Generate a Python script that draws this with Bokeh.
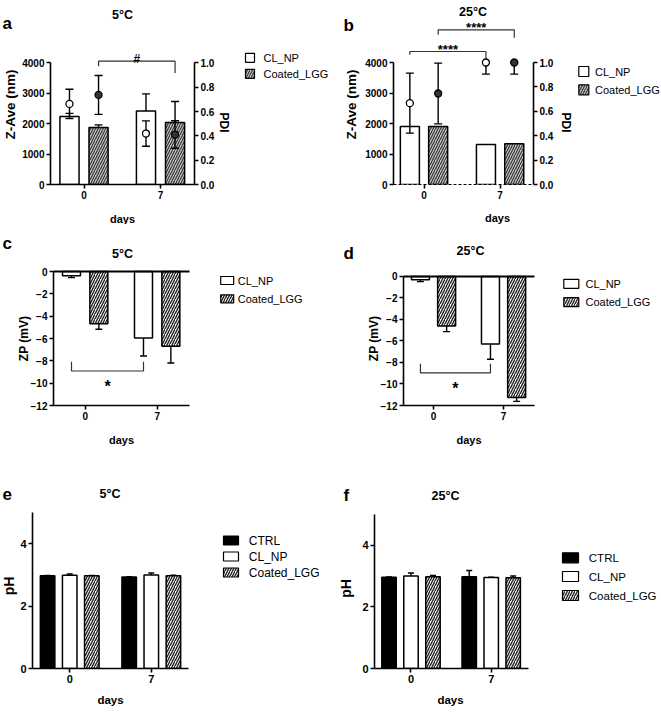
import numpy as np
from bokeh.plotting import figure
from bokeh.models import (Range1d, LinearAxis, FixedTicker, Label, Whisker, TeeHead,
                          ColumnDataSource, PrintfTickFormatter, CustomJSTickFormatter)
from bokeh.layouts import column, row
from bokeh.embed import file_html
from bokeh.resources import INLINE
from bokeh.core.properties import value

FONT = "Liberation Sans"

# ---------------- data ----------------
days = ["0", "7"]
series2 = ["CL_NP", "Coated_LGG"]
series3 = ["CTRL", "CL_NP", "Coated_LGG"]
zave_ticks = [0, 1000, 2000, 3000, 4000]
pdi_ticks = [0.0, 0.2, 0.4, 0.6, 0.8, 1.0]
zp_ticks = [0, -2, -4, -6, -8, -10, -12]
ph_ticks = [0, 2, 4]

# (a) 5 °C : Z-Ave (bars) and PDI (points)
a_zave_cl = [2240, 2420]
a_zave_cl_sd = [100, 560]
a_zave_lgg = [1875, 2040]
a_zave_lgg_sd = [85, 690]
a_pdi_cl = [0.663, 0.419]
a_pdi_cl_sd = [0.12, 0.104]
a_pdi_lgg = [0.737, 0.411]
a_pdi_lgg_sd = [0.16, 0.113]

# (b) 25 °C
b_zave_cl = [1900, 1310]
b_zave_lgg = [1900, 1340]
b_pdi_cl = [0.667, 1.0]
b_pdi_cl_sd = [0.246, 0.095]
b_pdi_lgg = [0.746, 1.0]
b_pdi_lgg_sd = [0.249, 0.095]

# (c) 5 °C zeta potential
c_zp_cl = [-0.38, -5.95]
c_zp_cl_sd = [0.17, 1.62]
c_zp_lgg = [-4.67, -6.70]
c_zp_lgg_sd = [0.5, 1.5]

# (d) 25 °C zeta potential
d_zp_cl = [-0.3, -6.27]
d_zp_cl_sd = [0.18, 1.43]
d_zp_lgg = [-4.6, -11.25]
d_zp_lgg_sd = [0.53, 0.37]

# (e) 5 °C pH
e_ph_ctrl = [2.97, 2.93]
e_ph_ctrl_sd = [0.01, 0.01]
e_ph_cl = [2.99, 3.0]
e_ph_cl_sd = [0.04, 0.06]
e_ph_lgg = [2.97, 2.97]
e_ph_lgg_sd = [0.01, 0.02]

# (f) 25 °C pH
f_ph_ctrl = [2.96, 2.98]
f_ph_ctrl_sd = [0.01, 0.2]
f_ph_cl = [3.0, 2.95]
f_ph_cl_sd = [0.1, 0.01]
f_ph_lgg = [2.98, 2.94]
f_ph_lgg_sd = [0.04, 0.06]

# ---------------- layout geometry (pixels) ----------------
GEO = {
    "a": dict(ox=0, oy=0, w=335, h=224, bl=50, br=141, bt=18, bb=40),
    "b": dict(ox=335, oy=0, w=325, h=224, bl=58, br=127, bt=18, bb=40),
    "c": dict(ox=0, oy=224, w=335, h=222, bl=53, br=146, bt=44, bb=41),
    "d": dict(ox=335, oy=224, w=325, h=222, bl=68, br=126, bt=44, bb=41),
    "e": dict(ox=0, oy=446, w=335, h=268, bl=32, br=147, bt=66, bb=46),
    "f": dict(ox=335, oy=446, w=325, h=268, bl=39, br=132, bt=66, bb=46),
}

HATCH_AB = dict(fill_color="#c8c8c8", hatch_pattern="right_diagonal_line", hatch_color="#333333",
                hatch_scale=5, hatch_weight=1.2)
HATCH_CF = dict(fill_color="white", hatch_pattern="right_diagonal_line", hatch_color="#222222",
                hatch_scale=5, hatch_weight=1.4)
BAR_LINE = dict(line_color="black", line_width=1.5)


def make_fig(g, xr, yr):
    p = figure(width=g["w"], height=g["h"], x_range=Range1d(*xr), y_range=Range1d(*yr),
               min_border_left=g["bl"], min_border_right=g["br"],
               min_border_top=g["bt"], min_border_bottom=g["bb"],
               output_backend="svg", toolbar_location=None,
               x_axis_location=None, y_axis_location=None)
    p.outline_line_color = None
    p.grid.visible = False
    p.background_fill_color = "white"
    p.border_fill_color = "white"
    p._geo = g
    return p


def style_axis(ax, size):
    ax.axis_line_width = 1.6
    ax.axis_line_color = "black"
    ax.major_tick_line_width = 1.6
    ax.major_tick_line_color = "black"
    ax.major_tick_in = 0
    ax.major_tick_out = 4
    ax.minor_tick_line_color = None
    ax.major_label_text_font = FONT
    ax.major_label_text_font_style = "bold"
    ax.major_label_text_font_size = size
    ax.major_label_text_color = "black"
    ax.major_label_standoff = 2


def x_axis(p, size):
    ax = LinearAxis(ticker=FixedTicker(ticks=list(range(len(days)))),
                    formatter=CustomJSTickFormatter(args=dict(labels=days),
                                                    code="const i = Math.round(tick); return (i >= 0 && i < labels.length) ? labels[i] : '';"))
    style_axis(ax, size)
    p.add_layout(ax, "below")
    return ax


def to_data(p, g, rx, ry):
    xs, xe = p.x_range.start, p.x_range.end
    ys, ye = p.y_range.start, p.y_range.end
    fw = g["w"] - g["bl"] - g["br"]
    fh = g["h"] - g["bt"] - g["bb"]
    x = xs + (rx - g["ox"] - g["bl"]) * (xe - xs) / fw
    y = ys + ((g["h"] - g["bb"]) - (ry - g["oy"])) * (ye - ys) / fh
    return x, y


def otext(p, rx, ry, s, size, bold=True, angle=0.0, align="center", baseline="middle"):
    g = p._geo
    x, y = to_data(p, g, rx, ry)
    p.text(x=[x], y=[y], text=[s], text_font=value(FONT), text_font_size=value(f"{size}px"),
           text_font_style="bold" if bold else "normal", text_color="black",
           text_align=align, text_baseline=baseline, angle=angle, level="overlay")


def dtext(p, x, y, s, size, baseline="alphabetic"):
    p.add_layout(Label(x=x, y=y, text=s, text_font=FONT, text_font_size=f"{size}px",
                       text_font_style="bold", text_color="black", text_align="center",
                       text_baseline=baseline))


def whisk(p, x, lo, hi, heads, size=8, y_range_name="default", width=1.4):
    src = ColumnDataSource(dict(x=list(x), lo=list(lo), hi=list(hi)))
    w = Whisker(base="x", lower="lo", upper="hi", source=src, dimension="height",
                line_color="black", line_width=width, y_range_name=y_range_name, level="annotation",
                upper_head=TeeHead(size=size, line_width=width, line_color="black") if heads in ("upper", "both") else None,
                lower_head=TeeHead(size=size, line_width=width, line_color="black") if heads in ("lower", "both") else None)
    p.add_layout(w)


def legend_box(p, rx, ry, w, h, style):
    g = p._geo
    x, y = to_data(p, g, rx, ry)
    p.rect(x=[x], y=[y], width=w, height=h, width_units="screen", height_units="screen",
           level="overlay", line_color="black", line_width=1.2, **style)


def legend_dot(p, rx, ry, fill):
    g = p._geo
    x, y = to_data(p, g, rx, ry)
    p.scatter(x=[x], y=[y], size=6.5, marker="circle", fill_color=fill, line_color="black",
              line_width=1.2, level="overlay")


def bracket(p, x0, x1, y_left, y_top, y_right):
    p.line(x=[x0, x0, x1, x1], y=[y_left, y_top, y_top, y_right], line_color="#333333", line_width=1.2)


xg = np.arange(len(days))
WHITE = dict(fill_color="white")
BLACK = dict(fill_color="black")

# ================= panel a =================
g = GEO["a"]
pa = make_fig(g, (-0.438, 1.444), (0, 5461))
pa.extra_y_ranges = {"pdi": Range1d(0, 5461 / 4000)}
off, bw = 0.19, 0.25
pa.vbar(x=xg - off, top=a_zave_cl, width=bw, fill_color="white", **BAR_LINE)
pa.vbar(x=xg + off, top=a_zave_lgg, width=bw, **HATCH_AB, **BAR_LINE)
whisk(pa, xg - off, a_zave_cl, np.add(a_zave_cl, a_zave_cl_sd), "upper")
whisk(pa, xg + off, a_zave_lgg, np.add(a_zave_lgg, a_zave_lgg_sd), "upper")
whisk(pa, xg - off, np.subtract(a_pdi_cl, a_pdi_cl_sd), np.minimum(np.add(a_pdi_cl, a_pdi_cl_sd), 1.0), "both", y_range_name="pdi")
whisk(pa, xg + off, np.subtract(a_pdi_lgg, a_pdi_lgg_sd), np.minimum(np.add(a_pdi_lgg, a_pdi_lgg_sd), 1.0), "both", y_range_name="pdi")
pa.scatter(x=xg - off, y=a_pdi_cl, size=7, marker="circle", fill_color="white", line_color="black",
           line_width=1.3, y_range_name="pdi", level="overlay")
pa.scatter(x=xg + off, y=a_pdi_lgg, size=7, marker="circle", fill_color="#333333", line_color="black",
           line_width=1.3, y_range_name="pdi", level="overlay")
ax = LinearAxis(bounds=(0, 4000), ticker=FixedTicker(ticks=zave_ticks))
style_axis(ax, "10px")
pa.add_layout(ax, "left")
ax = LinearAxis(y_range_name="pdi", bounds=(0, 1), ticker=FixedTicker(ticks=pdi_ticks),
                formatter=PrintfTickFormatter(format="%.1f"))
style_axis(ax, "10px")
pa.add_layout(ax, "right")
x_axis(pa, "10px")
bracket(pa, xg[0] + off, xg[1] + off, 3890, 4056, 3670)
dtext(pa, (xg[0] + xg[1]) / 2 + off, 4138, "#", 12)
otext(pa, 2, 23, "a", 17, align="left", baseline="alphabetic")
otext(pa, 122, 14, "5°C", 12.5, baseline="alphabetic")
otext(pa, 10, 104, "Z-Ave (nm)", 13.5, angle=np.pi / 2)
otext(pa, 223, 122, "PDI", 12, angle=-np.pi / 2)
otext(pa, 122, 218, "days", 11)
for ry, fill, st, lab in [(57.3, "white", WHITE, series2[0]), (73.3, "#333333", HATCH_AB, series2[1])]:
    legend_dot(pa, 235, ry, fill)
    legend_box(pa, 249.5, ry, 9, 9, st)
    otext(pa, 263, ry, lab, 11, bold=False, align="left")

# ================= panel b =================
g = GEO["b"]
pb = make_fig(g, (-0.401, 1.439), (0, 5443))
pb.extra_y_ranges = {"pdi": Range1d(0, 5443 / 4000)}
off, bw = 0.186, 0.25
pb.vbar(x=xg - off, top=b_zave_cl, width=bw, fill_color="white", **BAR_LINE)
pb.vbar(x=xg + off, top=b_zave_lgg, width=bw, **HATCH_AB, **BAR_LINE)
whisk(pb, xg - off, np.subtract(b_pdi_cl, b_pdi_cl_sd), np.minimum(np.add(b_pdi_cl, b_pdi_cl_sd), 1.0), "both", y_range_name="pdi")
whisk(pb, xg + off, np.subtract(b_pdi_lgg, b_pdi_lgg_sd), np.minimum(np.add(b_pdi_lgg, b_pdi_lgg_sd), 1.0), "both", y_range_name="pdi")
pb.scatter(x=xg - off, y=b_pdi_cl, size=7, marker="circle", fill_color="white", line_color="black",
           line_width=1.3, y_range_name="pdi", level="overlay")
pb.scatter(x=xg + off, y=b_pdi_lgg, size=7, marker="circle", fill_color="#333333", line_color="black",
           line_width=1.3, y_range_name="pdi", level="overlay")
ax = LinearAxis(bounds=(0, 4000), ticker=FixedTicker(ticks=zave_ticks))
style_axis(ax, "10px")
pb.add_layout(ax, "left")
ax = LinearAxis(y_range_name="pdi", bounds=(0, 1), ticker=FixedTicker(ticks=pdi_ticks),
                formatter=PrintfTickFormatter(format="%.1f"))
style_axis(ax, "10px")
pb.add_layout(ax, "right")
axb = x_axis(pb, "10px")
axb.axis_line_dash = "3 2"
axb.axis_line_width = 1.2
bracket(pb, xg[0] - off, xg[1] - off, 4252, 4361, 4033)
dtext(pb, (xg[0] + xg[1]) / 2 - off, 4361 + 60, "****", 13)
bracket(pb, xg[0] + off, xg[1] + off, 4908, 5072, 4810)
dtext(pb, (xg[0] + xg[1]) / 2 + off, 5072 + 60, "****", 13)
otext(pb, 343, 25, "b", 17, align="left", baseline="alphabetic")
otext(pb, 472.5, 11.7, "25°C", 12.5, baseline="alphabetic")
otext(pb, 351, 104, "Z-Ave (nm)", 13.5, angle=np.pi / 2)
otext(pb, 565, 122, "PDI", 12, angle=-np.pi / 2)
otext(pb, 497, 217, "days", 11)
for ry, fill, st, lab in [(71, "white", WHITE, series2[0]), (89.3, "#333333", HATCH_AB, series2[1])]:
    legend_dot(pb, 568.3, ry, fill)
    legend_box(pb, 583.3, ry, 10, 10, st)
    otext(pb, 594.5, ry, lab, 11, bold=False, align="left")

# ================= panel c =================
g = GEO["c"]
pc = make_fig(g, (-0.44, 1.449), (-12, 0.27))
off, bw = 0.19, 0.25
pc.vbar(x=xg - off, top=0, bottom=c_zp_cl, width=bw, fill_color="white", **BAR_LINE)
pc.vbar(x=xg + off, top=0, bottom=c_zp_lgg, width=bw, **HATCH_CF, **BAR_LINE)
whisk(pc, xg - off, np.subtract(c_zp_cl, c_zp_cl_sd), c_zp_cl, "lower", size=7)
whisk(pc, xg + off, np.subtract(c_zp_lgg, c_zp_lgg_sd), c_zp_lgg, "lower", size=7)
pc.segment(x0=[pc.x_range.start], y0=[0], x1=[pc.x_range.end], y1=[0], line_color="black", line_width=2.2, level="annotation")
ax = LinearAxis(bounds=(-12, 0), ticker=FixedTicker(ticks=zp_ticks))
style_axis(ax, "10px")
pc.add_layout(ax, "left")
x_axis(pc, "10px")
bracket(pc, xg[0] - off, xg[1] - off, -8.08, -8.91, -8.08)
dtext(pc, (xg[0] + xg[1]) / 2 - off, -10.34, "*", 16)
otext(pc, 2, 243, "c", 17, align="left", baseline="alphabetic")
otext(pc, 122, 253, "5°C", 12.5, baseline="alphabetic")
otext(pc, 23, 338, "ZP (mV)", 12, angle=np.pi / 2)
otext(pc, 121, 439, "days", 11)
for ry, st, lab in [(280, WHITE, series2[0]), (298.3, HATCH_CF, series2[1])]:
    legend_box(pc, 226.7, ry, 13, 8, st)
    otext(pc, 237.3, ry, lab, 11, bold=False, align="left")

# ================= panel d =================
g = GEO["d"]
pd_ = make_fig(g, (-0.429, 1.442), (-12, 0.744))
off, bw = 0.187, 0.257
pd_.vbar(x=xg - off, top=0, bottom=d_zp_cl, width=bw, fill_color="white", **BAR_LINE)
pd_.vbar(x=xg + off, top=0, bottom=d_zp_lgg, width=bw, **HATCH_CF, **BAR_LINE)
whisk(pd_, xg - off, np.subtract(d_zp_cl, d_zp_cl_sd), d_zp_cl, "lower", size=7)
whisk(pd_, xg + off, np.subtract(d_zp_lgg, d_zp_lgg_sd), d_zp_lgg, "lower", size=7)
pd_.segment(x0=[pd_.x_range.start], y0=[0], x1=[pd_.x_range.end], y1=[0], line_color="black", line_width=2.2, level="annotation")
ax = LinearAxis(bounds=(-12, 0), ticker=FixedTicker(ticks=zp_ticks))
style_axis(ax, "10px")
pd_.add_layout(ax, "left")
x_axis(pd_, "10px")
bracket(pd_, xg[0] - off, xg[1] - off, -8.12, -8.96, -8.12)
dtext(pd_, (xg[0] + xg[1]) / 2 - off, -10.46, "*", 16)
otext(pd_, 343, 253, "d", 17, align="left", baseline="alphabetic")
otext(pd_, 470, 250, "25°C", 12.5, baseline="alphabetic")
otext(pd_, 373, 338, "ZP (mV)", 12, angle=np.pi / 2)
otext(pd_, 468.5, 439, "days", 11)
for ry, st, lab in [(283.3, WHITE, series2[0]), (301.7, HATCH_CF, series2[1])]:
    legend_box(pd_, 570.8, ry, 15, 9, st)
    otext(pd_, 585, ry, lab, 11, bold=False, align="left")

# ================= panel e =================
g = GEO["e"]
pe = make_fig(g, (-0.456, 1.456), (0, 5))
offs3, bw = [-0.271, 0.0, 0.271], 0.178
pe.vbar(x=xg + offs3[0], top=e_ph_ctrl, width=bw, fill_color="black", **BAR_LINE)
pe.vbar(x=xg + offs3[1], top=e_ph_cl, width=bw, fill_color="white", **BAR_LINE)
pe.vbar(x=xg + offs3[2], top=e_ph_lgg, width=bw, **HATCH_CF, **BAR_LINE)
whisk(pe, xg + offs3[0], e_ph_ctrl, np.add(e_ph_ctrl, e_ph_ctrl_sd), "upper", size=6)
whisk(pe, xg + offs3[1], e_ph_cl, np.add(e_ph_cl, e_ph_cl_sd), "upper", size=6)
whisk(pe, xg + offs3[2], e_ph_lgg, np.add(e_ph_lgg, e_ph_lgg_sd), "upper", size=6)
ax = LinearAxis(ticker=FixedTicker(ticks=ph_ticks))
style_axis(ax, "11px")
pe.add_layout(ax, "left")
x_axis(pe, "11px")
otext(pe, 2, 493, "e", 17, align="left", baseline="alphabetic")
otext(pe, 109.5, 493, "5°C", 12.5, baseline="alphabetic")
otext(pe, 8.5, 585.5, "pH", 14, angle=np.pi / 2)
otext(pe, 110, 699, "days", 11.5)
for ry, st, lab in [(540, BLACK, series3[0]), (556, WHITE, series3[1]), (572, HATCH_CF, series3[2])]:
    legend_box(pe, 230.5, ry, 15, 9, st)
    otext(pe, 248.3, ry, lab, 12, bold=False, align="left")

# ================= panel f =================
g = GEO["f"]
pf = make_fig(g, (-0.455, 1.465), (0, 5.06))
offs3, bw = [-0.274, 0.0, 0.274], 0.18
pf.vbar(x=xg + offs3[0], top=f_ph_ctrl, width=bw, fill_color="black", **BAR_LINE)
pf.vbar(x=xg + offs3[1], top=f_ph_cl, width=bw, fill_color="white", **BAR_LINE)
pf.vbar(x=xg + offs3[2], top=f_ph_lgg, width=bw, **HATCH_CF, **BAR_LINE)
whisk(pf, xg + offs3[0], f_ph_ctrl, np.add(f_ph_ctrl, f_ph_ctrl_sd), "upper", size=6)
whisk(pf, xg + offs3[1], f_ph_cl, np.add(f_ph_cl, f_ph_cl_sd), "upper", size=6)
whisk(pf, xg + offs3[2], f_ph_lgg, np.add(f_ph_lgg, f_ph_lgg_sd), "upper", size=6)
ax = LinearAxis(bounds=(0, 5), ticker=FixedTicker(ticks=ph_ticks))
style_axis(ax, "11px")
pf.add_layout(ax, "left")
x_axis(pf, "11px")
otext(pf, 343, 495, "f", 17, align="left", baseline="alphabetic")
otext(pf, 445, 495, "25°C", 12.5, baseline="alphabetic")
otext(pf, 345, 588, "pH", 14, angle=np.pi / 2)
otext(pf, 450, 699, "days", 11.5)
for ry, st, lab in [(557.3, BLACK, series3[0]), (576, WHITE, series3[1]), (595, HATCH_CF, series3[2])]:
    legend_box(pf, 570, ry, 16, 10, st)
    otext(pf, 588.3, ry, lab, 11.5, bold=False, align="left")

layout = column(row(pa, pb, spacing=0), row(pc, pd_, spacing=0), row(pe, pf, spacing=0), spacing=0)

with open("out.html", "w") as fh:
    fh.write(file_html(layout, INLINE))
